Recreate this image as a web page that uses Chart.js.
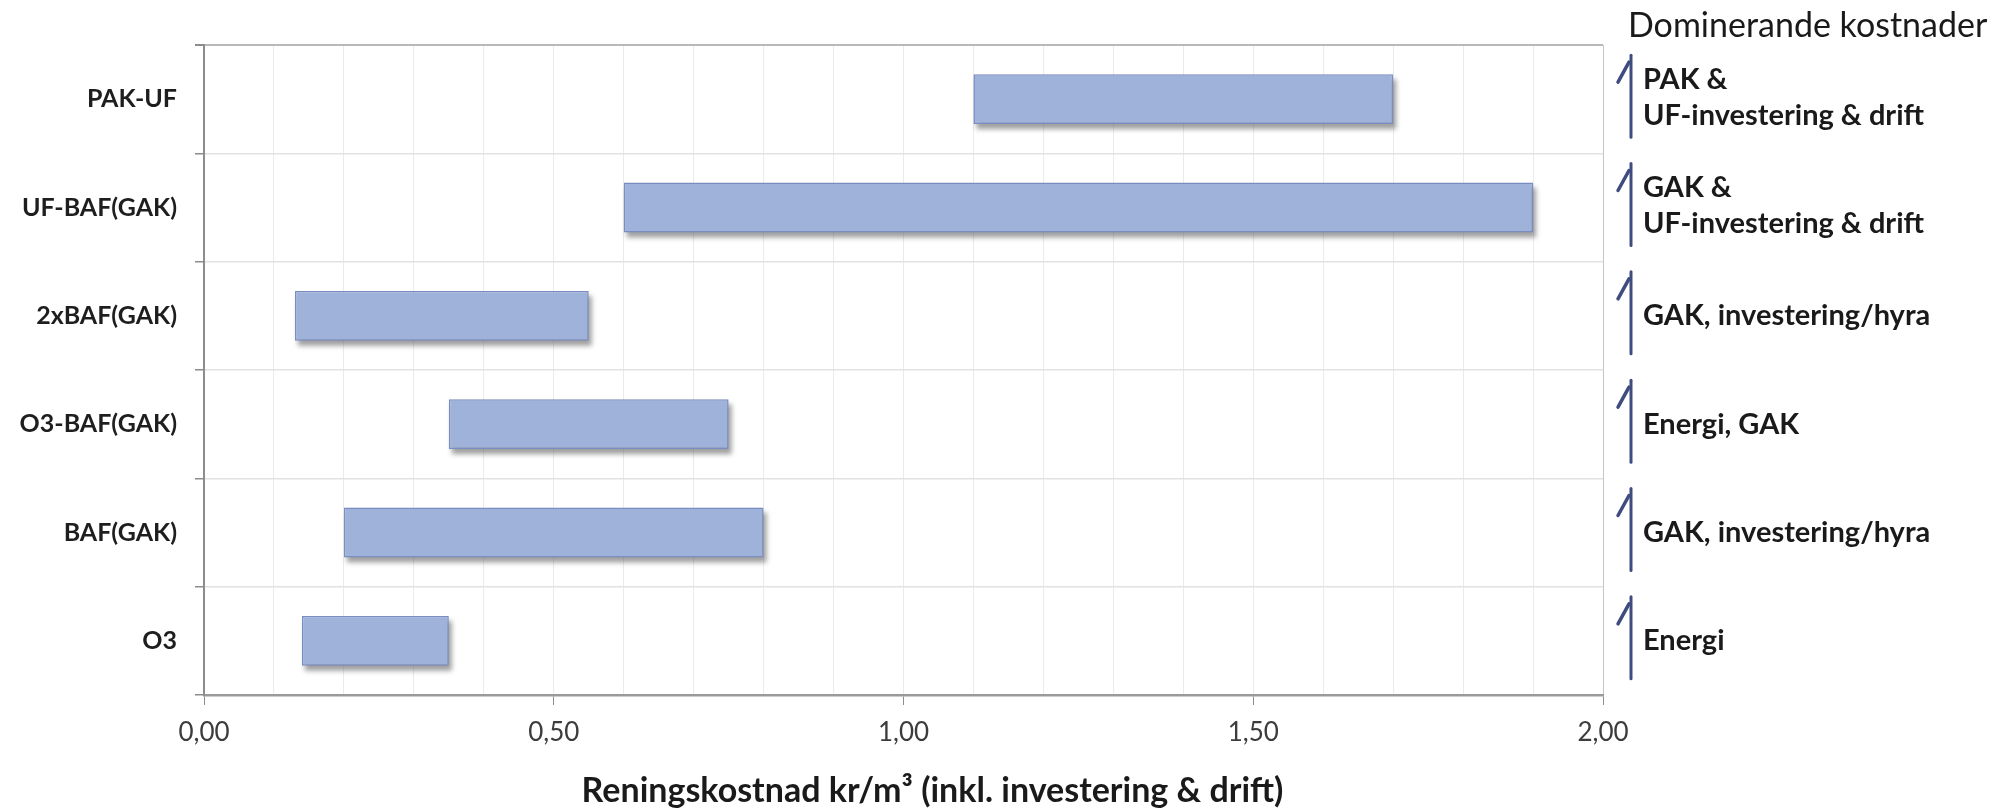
<!DOCTYPE html>
<html>
<head>
<meta charset="utf-8">
<script src="https://cdn.jsdelivr.net/npm/chart.js@4.4.1/dist/chart.umd.min.js"></script>
<style>
  html, body { margin: 0; padding: 0; background: #ffffff; }
  #wrap { width: 1995px; height: 811px; position: relative; }
  canvas { display: block; }
</style>
</head>
<body>
<div id="wrap"><canvas id="chart" width="1995" height="811"></canvas></div>
<script>
// Treatment alternatives, top to bottom
const categories = ['PAK-UF', 'UF-BAF(GAK)', '2xBAF(GAK)', 'O3-BAF(GAK)', 'BAF(GAK)', 'O3'];
// Cost range per alternative, kr/m³
const costLow  = [1.10, 0.60, 0.13, 0.35, 0.20, 0.14];
const costHigh = [1.70, 1.90, 0.55, 0.75, 0.80, 0.35];
// Dominating cost items per alternative (one entry per text line)
const dominantCosts = [
  ['PAK &', 'UF-investering & drift'],
  ['GAK &', 'UF-investering & drift'],
  ['GAK, investering/hyra'],
  ['Energi, GAK'],
  ['GAK, investering/hyra'],
  ['Energi']
];
// Labelled cost ticks
const xTickValues = [0, 0.5, 1, 1.5, 2];
const xTickLabels = ['0,00', '0,50', '1,00', '1,50', '2,00'];
const sideTitle = 'Dominerande kostnader';
const xTitle = 'Reningskostnad kr/m³ (inkl. investering & drift)';

const ranges = categories.map((_, i) => [costLow[i], costHigh[i]]);

function majorIndex(v) {
  return xTickValues.findIndex(t => Math.abs(t - v) < 1e-6);
}

// Soft drop shadow under each range bar, taken from the bar elements' geometry
const barShadow = {
  id: 'barShadow',
  beforeDatasetsDraw(chart) {
    const ctx = chart.ctx;
    const meta = chart.getDatasetMeta(0);
    ctx.save();
    ctx.fillStyle = 'rgba(80, 80, 80, 0.55)';
    ctx.filter = 'blur(2.5px)';
    meta.data.forEach(bar => {
      const p = bar.getProps(['x', 'y', 'base', 'height'], true);
      const left = Math.min(p.x, p.base);
      const right = Math.max(p.x, p.base);
      ctx.fillRect(left + 3, p.y - p.height / 2 + 5, right - left, p.height);
    });
    ctx.restore();
  }
};

// Axis title plus the "Dominerande kostnader" column on the right
const sideNotes = {
  id: 'sideNotes',
  afterDraw(chart) {
    const ctx = chart.ctx;
    const area = chart.chartArea;
    const y = chart.scales.y;
    ctx.save();

    // cost axis title
    ctx.fillStyle = '#1a1a1a';
    ctx.font = 'bold 34px Lato';
    ctx.textAlign = 'center';
    ctx.textBaseline = 'middle';
    ctx.fillText(xTitle, (area.left + area.right) / 2 + 29, 791);

    // column heading
    const x0 = area.right;
    ctx.font = '34px Lato';
    ctx.textAlign = 'left';
    ctx.fillStyle = '#1a1a1a';
    ctx.fillText(sideTitle, x0 + 25, 26);

    // bracket and text per alternative
    ctx.font = 'bold 29px Lato';
    dominantCosts.forEach((lines, i) => {
      const c = y.getPixelForValue(i);
      ctx.strokeStyle = '#3f4c7f';
      ctx.lineWidth = 3;
      ctx.lineCap = 'round';
      ctx.beginPath();
      ctx.moveTo(x0 + 28, c - 44);
      ctx.lineTo(x0 + 28, c + 38);
      ctx.stroke();
      ctx.lineWidth = 3.5;
      ctx.beginPath();
      ctx.moveTo(x0 + 26, c - 37);
      ctx.lineTo(x0 + 15, c - 17);
      ctx.stroke();

      ctx.fillStyle = '#1a1a1a';
      if (lines.length === 1) {
        ctx.fillText(lines[0], x0 + 40, c);
      } else {
        ctx.fillText(lines[0], x0 + 40, c - 20);
        ctx.fillText(lines[1], x0 + 40, c + 16);
      }
    });
    ctx.restore();
  }
};

new Chart(document.getElementById('chart'), {
  type: 'bar',
  data: {
    labels: categories,
    datasets: [{
      data: ranges,
      backgroundColor: '#9fb2da',
      borderColor: '#7a8dc2',
      borderWidth: 1.5,
      borderSkipped: false,
      barPercentage: 0.46,
      categoryPercentage: 1.0
    }]
  },
  options: {
    indexAxis: 'y',
    responsive: false,
    animation: false,
    devicePixelRatio: 1,
    layout: { padding: { top: 45, right: 392, left: 0, bottom: 0 } },
    plugins: {
      legend: { display: false },
      tooltip: { enabled: false }
    },
    scales: {
      x: {
        type: 'linear',
        min: 0,
        max: 2,
        afterFit(scale) { scale.height = 116; },
        border: { display: true, color: '#9a9a9a', width: 2.5 },
        grid: {
          color: ctx => (ctx.tick && Math.abs(ctx.tick.value - 2) < 1e-6) ? '#c4c4c4' : '#ebebeb',
          lineWidth: 1,
          tickLength: 10,
          tickColor: ctx => (ctx.tick && majorIndex(ctx.tick.value) >= 0) ? '#8c8c8c' : 'rgba(0,0,0,0)'
        },
        ticks: {
          stepSize: 0.1,
          autoSkip: false,
          maxRotation: 0,
          padding: 12,
          color: '#3c3c3c',
          font: { family: 'Lato', size: 26 },
          callback(value) {
            const i = majorIndex(value);
            return i >= 0 ? xTickLabels[i] : '';
          }
        }
      },
      y: {
        type: 'category',
        afterFit(scale) { scale.width = 204; },
        border: { display: true, color: '#8c8c8c', width: 2 },
        grid: {
          offset: true,
          color: ctx => (ctx.index === 0) ? '#b8b8b8' : '#e2e2e2',
          lineWidth: ctx => (ctx.index === 0) ? 2 : 1.5,
          tickLength: 9,
          tickColor: '#8c8c8c'
        },
        ticks: {
          padding: 18,
          color: '#1e1e1e',
          font: { family: 'Lato', size: 25, weight: 'bold' }
        }
      }
    }
  },
  plugins: [barShadow, sideNotes]
});
</script>
</body>
</html>
